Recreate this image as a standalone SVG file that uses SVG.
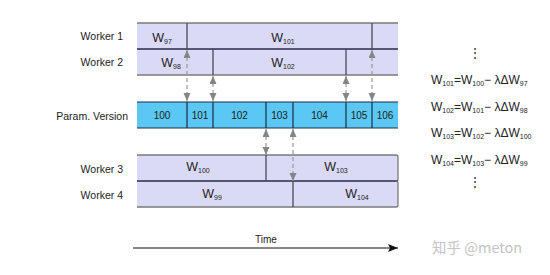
<svg xmlns="http://www.w3.org/2000/svg" width="550" height="275" viewBox="0 0 550 275">
<style>
.lbl{font-family:"Liberation Sans",Arial,sans-serif;font-size:10.5px;fill:#222;text-anchor:end}
.w{font-family:"Liberation Sans",Arial,sans-serif;font-size:12.5px;fill:#222;text-anchor:middle}
.sub{font-size:7px}
.num{font-family:"Liberation Sans",Arial,sans-serif;font-size:10px;fill:#222;text-anchor:middle}
.f{font-family:"Liberation Sans",Arial,sans-serif;font-size:12px;fill:#222}
.bar{fill:#dadaf7}
.pbar{fill:#5bc7f3}
.edge{stroke:#7a7a7a;stroke-width:1.3;fill:none}
.mid{stroke:#2a2a4a;stroke-width:1.3;fill:none}
.div{stroke:#4a4a55;stroke-width:1.3;fill:none}
.pline{stroke:#1c2c48;stroke-width:1.2;fill:none}
.dash{stroke:#999;stroke-width:1.2;stroke-dasharray:4 3;fill:none;marker-start:url(#ah);marker-end:url(#ah)}
</style>
<defs>
<marker id="ah" markerUnits="userSpaceOnUse" markerWidth="9" markerHeight="8" refX="8" refY="3.5" orient="auto-start-reverse">
<path d="M0,0 L8,3.5 L0,7 z" fill="#858585"/>
</marker>
<marker id="tah" markerUnits="userSpaceOnUse" markerWidth="11" markerHeight="9" refX="10" refY="4" orient="auto">
<path d="M0,0 L10,4 L0,8 L2,4 z" fill="#111"/>
</marker>
</defs>
<rect width="550" height="275" fill="#fff"/>

<g id="labels">
<text class="lbl" x="123" y="40">Worker 1</text>
<text class="lbl" x="123" y="66">Worker 2</text>
<text class="lbl" x="128" y="119.5">Param. Version</text>
<text class="lbl" x="123" y="172.5">Worker 3</text>
<text class="lbl" x="123" y="199">Worker 4</text>
</g>

<g id="worker12">
<rect class="bar" x="137" y="23" width="261" height="52"/>
<line class="edge" x1="137" y1="23" x2="398" y2="23"/>
<line class="mid" x1="137" y1="49" x2="398" y2="49"/>
<line class="edge" x1="137" y1="75" x2="398" y2="75"/>
<line class="div" x1="187" y1="23" x2="187" y2="49"/>
<line class="div" x1="372" y1="23" x2="372" y2="49"/>
<line class="div" x1="213" y1="49" x2="213" y2="75"/>
<line class="div" x1="346" y1="49" x2="346" y2="75"/>
<text class="w" x="162" y="42">W<tspan class="sub" dy="2">97</tspan></text>
<text class="w" x="283" y="42">W<tspan class="sub" dy="2">101</tspan></text>
<text class="w" x="171" y="67">W<tspan class="sub" dy="2">98</tspan></text>
<text class="w" x="283" y="67">W<tspan class="sub" dy="2">102</tspan></text>
</g>

<g id="param">
<rect class="pbar" x="137" y="102" width="261" height="26"/>
<line class="pline" x1="137" y1="102" x2="398" y2="102"/>
<line class="pline" x1="137" y1="128" x2="398" y2="128"/>
<line class="pline" x1="187" y1="102" x2="187" y2="128"/>
<line class="pline" x1="213" y1="102" x2="213" y2="128"/>
<line class="pline" x1="266" y1="102" x2="266" y2="128"/>
<line class="pline" x1="293" y1="102" x2="293" y2="128"/>
<line class="pline" x1="346" y1="102" x2="346" y2="128"/>
<line class="pline" x1="372" y1="102" x2="372" y2="128"/>
<text class="num" x="162" y="119">100</text>
<text class="num" x="200" y="119">101</text>
<text class="num" x="239.5" y="119">102</text>
<text class="num" x="279.5" y="119">103</text>
<text class="num" x="319.5" y="119">104</text>
<text class="num" x="359" y="119">105</text>
<text class="num" x="385" y="119">106</text>
</g>

<g id="worker34">
<rect class="bar" x="137" y="155" width="261" height="52" rx="1"/>
<path class="edge" d="M137,155 H396 Q398,155 398,157 V179 Q398,181 396,181"/>
<line class="mid" x1="137" y1="181" x2="398" y2="181"/>
<path class="edge" d="M396,181 Q398,181 398,183 V205 Q398,207 396,207 H137"/>
<line class="div" x1="266" y1="155" x2="266" y2="181"/>
<line class="div" x1="293" y1="181" x2="293" y2="207"/>
<text class="w" x="198" y="171">W<tspan class="sub" dy="2">100</tspan></text>
<text class="w" x="336" y="171">W<tspan class="sub" dy="2">103</tspan></text>
<text class="w" x="212" y="198">W<tspan class="sub" dy="2">99</tspan></text>
<text class="w" x="357" y="198">W<tspan class="sub" dy="2">104</tspan></text>
</g>

<g id="connectors">
<line class="dash" x1="187" y1="50" x2="187" y2="101"/>
<line class="dash" x1="213" y1="76" x2="213" y2="101"/>
<line class="dash" x1="346" y1="76" x2="346" y2="101"/>
<line class="dash" x1="372" y1="50" x2="372" y2="101"/>
<line class="dash" x1="266" y1="129" x2="266" y2="155"/>
<line class="dash" x1="293" y1="129" x2="293" y2="181"/>
<line x1="133" y1="248" x2="398" y2="248" stroke="#111" stroke-width="1.2" marker-end="url(#tah)"/>
</g>

<g id="time">
<text class="num" x="266" y="243">Time</text>
</g>

<g id="formulas">
<text class="f" x="475" y="57" text-anchor="middle">⋮</text>
<text class="f" x="431" y="84">W<tspan class="sub" dy="2">101</tspan><tspan dy="-2">=W</tspan><tspan class="sub" dy="2">100</tspan><tspan dy="-2">− λΔW</tspan><tspan class="sub" dy="2">97</tspan></text>
<text class="f" x="431" y="111">W<tspan class="sub" dy="2">102</tspan><tspan dy="-2">=W</tspan><tspan class="sub" dy="2">101</tspan><tspan dy="-2">− λΔW</tspan><tspan class="sub" dy="2">98</tspan></text>
<text class="f" x="431" y="137">W<tspan class="sub" dy="2">103</tspan><tspan dy="-2">=W</tspan><tspan class="sub" dy="2">102</tspan><tspan dy="-2">− λΔW</tspan><tspan class="sub" dy="2">100</tspan></text>
<text class="f" x="431" y="164">W<tspan class="sub" dy="2">104</tspan><tspan dy="-2">=W</tspan><tspan class="sub" dy="2">103</tspan><tspan dy="-2">− λΔW</tspan><tspan class="sub" dy="2">99</tspan></text>
<text class="f" x="475" y="186" text-anchor="middle">⋮</text>
</g>

<g id="watermark">
<text x="432" y="253" font-family="'Noto Sans CJK SC','Liberation Sans',sans-serif" font-size="14.5" fill="#c4c4c4">知乎 @meton</text>
</g>
</svg>
